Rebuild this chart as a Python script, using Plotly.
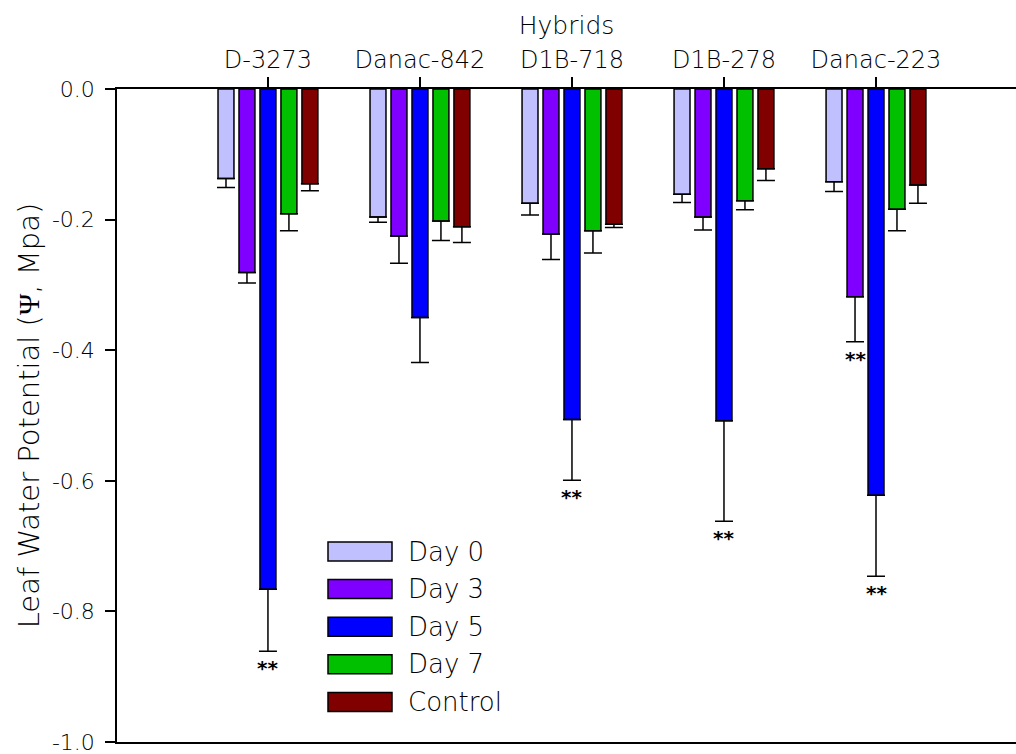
import plotly.graph_objects as go

hybrids = ["D-3273", "Danac-842", "D1B-718", "D1B-278", "Danac-223"]
series = ["Day 0", "Day 3", "Day 5", "Day 7", "Control"]
colors = ["#C0C0FF", "#8000FF", "#0000FF", "#00C000", "#800000"]

y_tickvals = [0.0, -0.2, -0.4, -0.6, -0.8, -1.0]
y_ticktext = ["0.0", "-0.2", "-0.4", "-0.6", "-0.8", "-1.0"]

day0 = [-0.137, -0.196, -0.175, -0.161, -0.142]
day0_err = [0.014, 0.008, 0.018, 0.013, 0.015]
day3 = [-0.281, -0.225, -0.222, -0.196, -0.318]
day3_err = [0.016, 0.042, 0.039, 0.020, 0.069]
day5 = [-0.766, -0.350, -0.506, -0.508, -0.622]
day5_err = [0.095, 0.069, 0.093, 0.154, 0.124]
day7 = [-0.191, -0.202, -0.217, -0.171, -0.184]
day7_err = [0.026, 0.030, 0.034, 0.014, 0.033]
control = [-0.145, -0.211, -0.207, -0.122, -0.147]
control_err = [0.011, 0.024, 0.005, 0.018, 0.028]

sig_day0 = ["", "", "", "", ""]
sig_day3 = ["", "", "", "", "**"]
sig_day5 = ["**", "", "**", "**", "**"]
sig_day7 = ["", "", "", "", ""]
sig_control = ["", "", "", "", ""]

values = [day0, day3, day5, day7, control]
errors = [day0_err, day3_err, day5_err, day7_err, control_err]
sigs = [sig_day0, sig_day3, sig_day5, sig_day7, sig_control]

FONT = "DejaVu Sans"
WEIGHT = 200
INK = "#000000"
BARGAP = 0.31
BARGROUPGAP = 0.24

fig = go.Figure()
for name, col, vals, errs in zip(series, colors, values, errors):
    fig.add_trace(go.Bar(
        x=list(range(len(hybrids))), y=vals, name=name,
        marker=dict(color=col, line=dict(color="black", width=1.5)),
        error_y=dict(type="data", symmetric=False, array=[0] * len(errs),
                     arrayminus=errs, color="black", thickness=1.5, width=9),
        showlegend=False,
    ))

# significance marks below the error bars
nser = len(series)
slot = (1 - BARGAP) / nser
for i, (vals, errs, sg) in enumerate(zip(values, errors, sigs)):
    for j, s in enumerate(sg):
        if s:
            fig.add_annotation(
                x=j + (i - (nser - 1) / 2) * slot, y=vals[j] - errs[j],
                xref="x", yref="y", text="<b>" + s + "</b>", showarrow=False,
                yanchor="top", yshift=-3,
                font=dict(family=FONT, size=20, color=INK, weight="bold"),
            )

# legend drawn as wide boxes
L0, T0 = 117, 89
PW, PH = 899, 653
def px(xp):
    return (xp - L0) / PW
def py(yp):
    return (T0 + PH - yp) / PH

for k, (name, col) in enumerate(zip(series, colors)):
    top = 542 + k * 37.6
    fig.add_shape(type="rect", xref="paper", yref="paper",
                  x0=px(328), x1=px(392), y0=py(top + 19), y1=py(top),
                  fillcolor=col, line=dict(color="black", width=1.5))
    fig.add_annotation(xref="paper", yref="paper", x=px(406), y=py(top + 9.5),
                       xanchor="left", yanchor="middle", text=name, showarrow=False,
                       font=dict(family=FONT, size=26, color=INK, weight=WEIGHT))

fig.update_layout(
    width=1016, height=754,
    margin=dict(l=117, r=0, t=89, b=12),
    paper_bgcolor="white", plot_bgcolor="white",
    barmode="group", bargap=BARGAP, bargroupgap=BARGROUPGAP,
    font=dict(family=FONT, size=22, color=INK, weight=WEIGHT),
    xaxis=dict(
        side="top", tickmode="array", tickvals=list(range(len(hybrids))), ticktext=hybrids,
        range=[-0.993, 4.921], showline=True, linecolor="black", linewidth=1.5,
        mirror=True, ticks="outside", ticklen=10, tickwidth=1.5, tickcolor="black",
        showgrid=False, zeroline=False,
        title=dict(text="Hybrids", font=dict(size=25, color=INK, weight=WEIGHT), standoff=4),
        tickfont=dict(size=24, color=INK, weight=WEIGHT),
    ),
    yaxis=dict(
        range=[-1.0, 0.0], tickmode="array", tickvals=y_tickvals, ticktext=y_ticktext,
        showline=True, linecolor="black", linewidth=1.5,
        ticks="outside", ticklen=10, tickwidth=1.5, tickcolor="black",
        showgrid=False, zeroline=False, tickfont=dict(size=22, color=INK, weight=WEIGHT),
        ticklabelstandoff=6, ticklabeloverflow="allow",
        title=dict(text="Leaf Water Potential (<span style=\"font-family:'Liberation Serif'\">Ψ</span>, Mpa)",
                   font=dict(size=29, color=INK, weight=WEIGHT), standoff=4),
    ),
)

fig.write_html("out.html")
